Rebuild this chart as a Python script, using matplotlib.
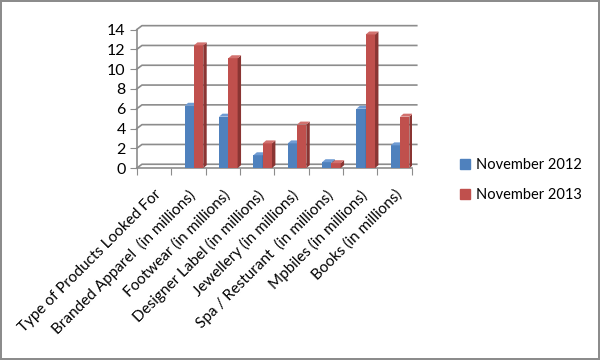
import numpy as np
import matplotlib
matplotlib.use("Agg")
import matplotlib.pyplot as plt
from matplotlib.patches import Polygon, Patch

plt.rcParams['font.family'] = ['Lato', 'DejaVu Sans']

categories = ["Type of Products Looked For",
              "Branded Apparel  (in millions)",
              "Footwear (in millions)",
              "Designer Label (in millions)",
              "Jewellery (in millions)",
              "Spa / Resturant  (in millions)",
              "Mpbiles (in millions)",
              "Books (in millions)"]
nov_2012 = [0, 6.3, 5.2, 1.3, 2.5, 0.6, 6.0, 2.3]
nov_2013 = [0, 12.4, 11.1, 2.5, 4.4, 0.5, 13.5, 5.2]
series_names = ["November 2012", "November 2013"]
yticks = [0, 2, 4, 6, 8, 10, 12, 14]

front = ["#4F81BD", "#C0504D"]
side = ["#36598A", "#8A3533"]
top = ["#6F9BD3", "#D2716E"]

fig = plt.figure(figsize=(6, 3.6), dpi=100)
fig.patch.set_edgecolor("#8c8c8c")
fig.patch.set_linewidth(1.5)
ax = fig.add_axes([0.228, 0.533, 0.458, 0.385])

x = np.arange(len(categories))
w = 0.27
dx, dy = 0.1, 0.3  # fake depth in data units

# back wall gridlines
for v in yticks:
    ax.plot([-0.5, -0.5 + dx * 1.5, 7.5 + dx * 1.5], [v, v + dy * 1.3, v + dy * 1.3],
            color="#8c8c8c", lw=1.2, clip_on=False, zorder=1)

for k, vals in enumerate([nov_2012, nov_2013]):
    xs = x + 0.03 + k * w
    ax.bar(xs, vals, width=w, color=front[k], zorder=3 + k, linewidth=0)
    for xc, h in zip(xs, vals):
        if h <= 0:
            continue
        l, r = xc - w / 2, xc + w / 2
        ax.add_patch(Polygon([[r, 0], [r + dx, dy], [r + dx, h + dy], [r, h]],
                             closed=True, color=side[k], lw=0, zorder=3 + k))
        ax.add_patch(Polygon([[l, h], [l + dx, h + dy], [r + dx, h + dy], [r, h]],
                             closed=True, color=top[k], lw=0, zorder=3 + k))

ax.set_xlim(-0.5, 7.5)
ax.set_ylim(0, 14)
ax.set_yticks(yticks)
ax.set_xticks(np.arange(-0.5, 8, 1), minor=False)
ax.set_xticklabels([])
ax.set_xticks(x, minor=True)
ax.set_xticklabels(categories, minor=True, rotation=45, ha="right",
                   rotation_mode="anchor", fontsize=11)
ax.tick_params(axis="x", which="minor", length=0, pad=14)
ax.tick_params(axis="x", which="major", length=5, color="#8c8c8c", direction="out")
ax.tick_params(axis="y", length=5, color="#8c8c8c", labelsize=11.5, pad=3)
for s in ["top", "right"]:
    ax.spines[s].set_visible(False)
for s in ["left", "bottom"]:
    ax.spines[s].set_color("#8c8c8c")
    ax.spines[s].set_linewidth(1.2)
ax.set_facecolor("none")

handles = [Patch(color=front[0]), Patch(color=front[1])]
fig.legend(handles, series_names, loc="center left", bbox_to_anchor=(0.745, 0.5),
           frameon=False, fontsize=10.5, handlelength=0.7, handleheight=0.7,
           handletextpad=0.4, labelspacing=1.1)

fig.savefig("out.png", dpi=100)
